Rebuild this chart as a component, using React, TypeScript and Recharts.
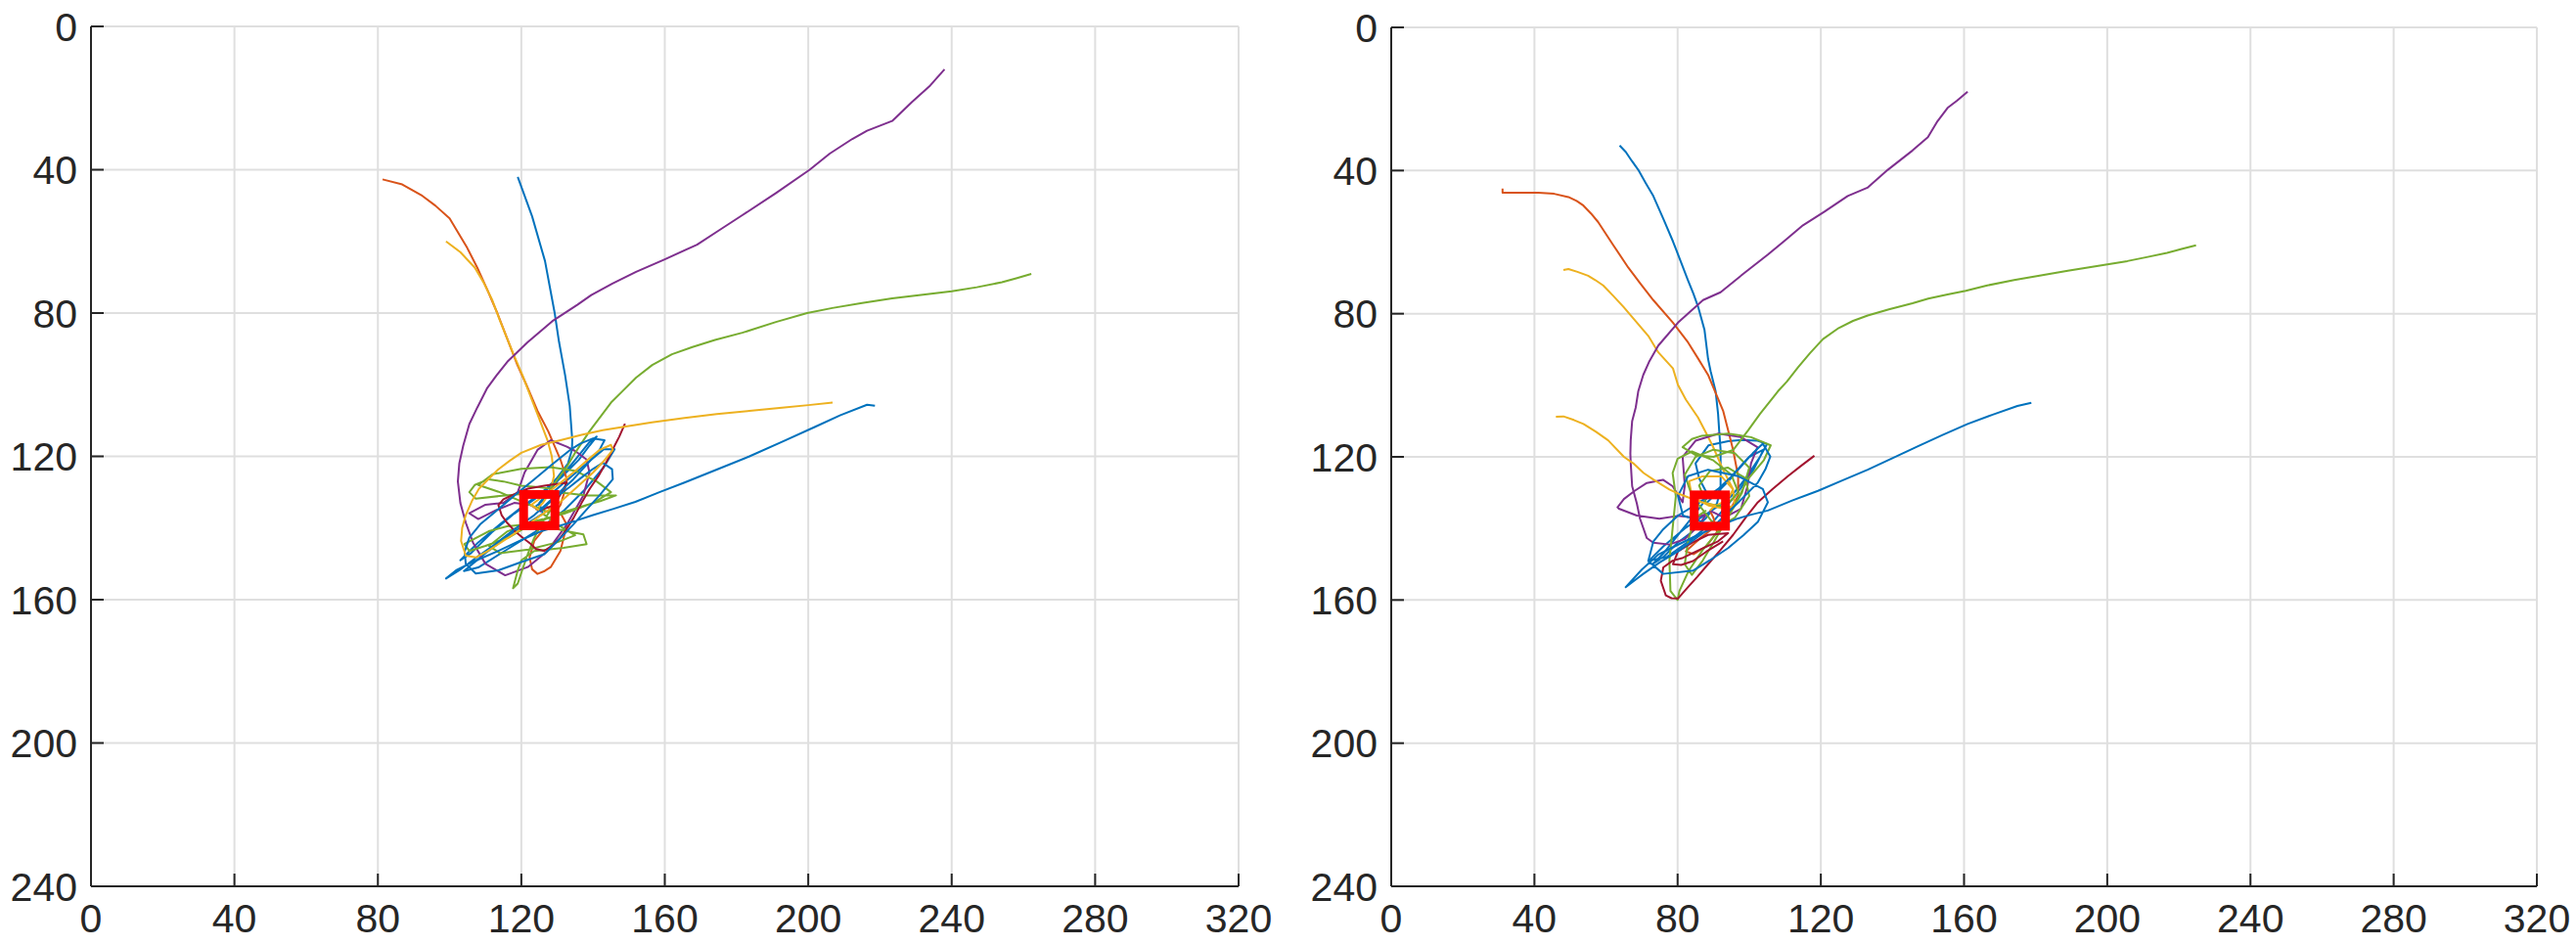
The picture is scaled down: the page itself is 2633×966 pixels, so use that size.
import React from "react";
import { ScatterChart, Scatter, XAxis, YAxis, CartesianGrid } from "recharts";

type Pt = [number, number];

const xTicks = [0, 40, 80, 120, 160, 200, 240, 280, 320];
const yTicks = [0, 40, 80, 120, 160, 200, 240];

// MATLAB default colour order
const BLUE = "#0072BD";
const ORANGE = "#D95319";
const YELLOW = "#EDB120";
const PURPLE = "#7E2F8E";
const GREEN = "#77AC30";
const DARK_RED = "#A2142F";

// ---- left run ----
const leftBlueA: Pt[] = [
  [119, 42], [123, 53], [126.6, 65.5], [129.3, 80], [130.5, 88], [132.2, 97.3], [133.5, 106], [134.2, 115.5],
  [134.1, 118.2], [133, 122], [130, 126], [127, 129], [123, 132], [119, 135], [114, 139], [108, 144], [103, 149],
  [106, 147], [112, 141], [118, 136], [125, 131], [131, 126], [136, 121], [139, 117], [141, 114.5], [139, 116],
  [135, 121], [130, 127], [125, 133], [126, 136], [118, 141], [110, 147], [104, 152], [108, 151], [116, 146],
  [124, 141], [132, 135], [138, 129], [143, 123], [146, 118], [143, 118], [137, 123], [130, 129], [124, 134],
];
const leftOrange: Pt[] = [
  [81.3, 42.7], [86.8, 44.1], [92.4, 47.3], [96, 50], [100, 53.6], [104.9, 61.8], [107.7, 67.3], [110.5, 73.5],
  [113.3, 80], [116, 87], [118.9, 94.5], [121.4, 100], [124.5, 107.3], [127.5, 113], [130.9, 120.9], [132.7, 126.4],
  [132, 130], [130.9, 133.6], [127.3, 139.1], [123.6, 143.6], [122.3, 148.2], [123, 151.5], [124.5, 152.8],
  [126.5, 152], [128.2, 150.9], [130.9, 146.4], [132.7, 139.1], [131, 136], [127, 134],
];
const leftYellowA: Pt[] = [
  [99, 60], [103, 63], [107, 67.3], [109.5, 71.5], [111.9, 76.4], [114, 82], [116.1, 87.3], [118, 92],
  [120.3, 97.3], [122.7, 103.6], [124.5, 108.2], [127.3, 115.5], [128.5, 120], [129.1, 125.5], [128, 130],
  [126, 133], [124, 135],
];
const leftPurple: Pt[] = [
  [238, 12], [234, 16.5], [229, 21], [223.4, 26.4], [216.4, 29.1], [212.3, 31.4], [206, 35.5], [200.4, 40],
  [191, 46.5], [181.6, 52.7], [175, 57], [169, 60.9], [160, 65], [152, 68.5], [145.4, 71.8], [139.5, 75],
  [135.6, 77.7], [128.6, 82.3], [121.7, 88.2], [116.1, 93.6], [113, 97.5], [110.5, 100.9], [107.7, 106.4],
  [105.5, 111], [103.8, 117], [102.7, 122], [102.3, 127], [103, 133], [104.5, 138.5], [106.5, 144], [110, 150],
  [115.5, 153.2], [121.8, 150.9], [127.3, 146.4], [132.7, 139], [137.3, 130.9], [139, 124.5], [138.2, 120.9],
  [135, 118.5], [132.7, 117.3], [128.2, 115.5], [124.5, 118.2], [120.9, 124.5], [119, 130], [115, 133],
  [110, 133.5], [105.5, 135.9], [108, 137.5], [113, 135], [118, 133], [122.7, 133.6], [125.5, 135.5],
];
const leftGreen: Pt[] = [
  [262.2, 69.1], [258, 70.3], [254, 71.4], [247, 72.8], [240, 73.9], [232, 74.9], [223.4, 75.9], [215, 77.2],
  [206.7, 78.6], [199.7, 80], [191, 82.5], [181.6, 85.5], [174, 87.5], [167.7, 89.5], [162, 91.5], [156.5, 94.5],
  [152, 98], [148.2, 101.8], [145, 105], [142.6, 108.2], [139, 113], [135, 119], [132.8, 122.7], [128.2, 129],
  [124, 128.5], [120, 128.2], [115, 127], [110.9, 126.4], [107, 128], [105.5, 130], [107.3, 131.8], [115.5, 130.9],
  [126.4, 130], [133, 130.3], [138.2, 130.9], [146.4, 130.9], [142, 132.5], [138.2, 133.6], [132, 135.5],
  [127.3, 137.3], [121, 140], [116.4, 142.7], [110, 145], [105.5, 146.4], [104.1, 144.5], [110.9, 140.9],
  [116, 139.5], [121.8, 139], [127, 139.6], [132.7, 140.9], [137.3, 141.8], [138.2, 144.5], [131.8, 145.5],
  [123.6, 146.4], [120, 149], [119, 151.8], [117.7, 156.8], [119, 155.5], [120.5, 151], [121.8, 147.3],
  [123.5, 143], [125.5, 139], [129.1, 133.6], [127.3, 135.5], [121, 133], [114, 130], [108, 128], [112, 125],
  [120, 123.5], [128, 123], [135, 124], [141, 127], [145, 130], [140, 133], [132, 136], [124, 138], [116, 141],
  [111, 145], [114, 147], [122, 146], [130, 144], [135, 142], [130, 139], [126, 136],
];
const leftDarkRed: Pt[] = [
  [148.9, 110.9], [147.3, 114.5], [145.5, 118], [143.6, 121.8], [141.5, 125.5], [139.1, 129], [136.8, 133],
  [134.5, 137.3], [132.5, 140.5], [130.9, 142.7], [128.5, 145], [126.4, 146.4], [124, 145.8], [122.7, 144.5],
  [120.5, 142.8], [118.2, 140.9], [116, 138.5], [114.5, 136.4], [113.6, 133.6], [115, 132], [117.3, 130.9],
  [121.8, 129], [126.4, 128.2], [132.7, 127.3], [131, 130.5], [129.1, 133.6], [125.5, 135],
];
const leftBlueB: Pt[] = [
  [218.6, 105.9], [216.4, 105.6], [209, 108.5], [201.8, 111.8], [193, 115.8], [183.6, 120], [174.5, 123.7],
  [165.5, 127.3], [158.5, 130], [151.8, 132.7], [145.5, 134.7], [140, 136.4], [134.5, 138.2], [130, 139.6],
  [125.5, 140.9], [119.5, 143.6], [113.6, 146.4], [107.5, 149], [101.8, 151.8], [99, 154.1], [102.7, 151.8],
  [107.5, 148.2], [112.7, 144.5], [118, 140.4], [123.6, 136.4], [129, 131.5], [134.5, 126.4], [138.5, 122],
  [141.8, 118.2], [143.2, 115.5], [140, 115], [136.5, 116.4], [133.6, 118.2], [128.5, 122.3], [123.6, 126.4],
  [118, 131], [112.7, 135.5], [108.5, 139], [105.5, 142.7], [104.2, 146.5], [104.5, 150], [107.3, 152.7],
  [113.6, 151.8], [120, 149.5], [126.4, 147.3], [130.5, 143.2], [134.5, 139], [138.5, 134.5], [141.8, 130.9],
  [145.5, 126.4], [145.3, 123.6], [142.7, 121.8], [140, 123.5], [137.3, 125.5], [133.4, 128.6], [129.1, 131.8],
  [125.5, 135],
];
const leftYellowB: Pt[] = [
  [206.8, 105], [200, 105.7], [192.7, 106.4], [183.6, 107.3], [174.5, 108.2], [165.5, 109.3], [156.4, 110.5],
  [149.5, 111.6], [142.7, 112.7], [136.8, 114], [130.9, 115.5], [125.5, 116.8], [120, 119], [116.8, 121.2],
  [113.6, 123.6], [110.9, 126.3], [108.2, 129], [106.2, 132.5], [104.5, 136.4], [103.5, 140], [103.2, 143.6],
  [104.5, 147.7], [107.3, 148.2], [110.5, 146.5], [113.6, 144.5], [117.7, 141.8], [121.8, 139], [126.4, 135.8],
  [130.9, 132.7], [135.5, 128.6], [140, 124.5], [143, 121.3], [145.5, 118.2], [145, 116.8], [141.8, 118.2],
  [138, 121.4], [134.5, 124.5], [130.5, 127.7], [126.4, 130.9], [122.7, 133.6], [125, 135],
];
const leftTarget: Pt[] = [[125, 135]];

// ---- right run ----
const rightBlueA: Pt[] = [
  [63.8, 33], [65.5, 34.8], [67.2, 37.3], [69, 39.8], [71.1, 43.5], [73.2, 47.1], [76, 53.5], [78.7, 59.8],
  [80.8, 65.2], [82.9, 70.7], [84.4, 74.4], [85.7, 78], [87.5, 84.5], [88.5, 92.6], [89.2, 96], [90.6, 101.6],
  [91.3, 108], [91.6, 112.6], [92, 118], [92, 124], [92, 129], [91, 133], [88, 137], [84, 141], [80, 144],
  [76, 148], [73, 150], [76, 147], [80, 142], [84, 137], [88.6, 131], [86, 126], [85, 121.8], [88.6, 116.8],
  [94.1, 115.6], [98, 115.3], [102.3, 115.5], [105, 116.4], [103, 120], [99, 126], [95, 131], [91, 134], [88, 136],
  [82, 140], [76, 145], [72, 149], [77, 148], [84, 143], [90, 138], [96, 131], [101, 124], [104, 118], [100, 120],
  [94, 127], [88, 133],
];
const rightOrange: Pt[] = [
  [31.1, 45], [31.1, 46.2], [36, 46.2], [41.1, 46.2], [45.5, 46.5], [49.5, 47.4], [51.8, 48.5], [53.7, 49.8],
  [55.8, 52], [57.8, 54.4], [62, 60.8], [66.2, 67.1], [69.7, 71.7], [73.2, 76.2], [78.7, 82.5], [82.9, 88],
  [85.7, 92.5], [88.5, 97.1], [92.7, 107.1], [94.8, 115.3], [95.5, 118.1], [96.9, 125.4], [96.9, 130.9],
  [94.5, 135], [91, 139], [86, 143], [82.3, 146.4], [84.5, 147.2], [88, 145], [91, 141], [90, 137], [89, 135],
];
const rightYellowA: Pt[] = [
  [48.1, 67.8], [49.5, 67.5], [52, 68.3], [55, 69.4], [57, 70.6], [59.2, 72.1], [62, 75], [64.8, 78],
  [68.3, 82.1], [71.8, 86.2], [74.6, 90.8], [78.7, 95.3], [80.1, 99.9], [82.3, 104], [85.7, 109], [88.5, 114.4],
  [89.9, 117.2], [92.7, 123.6], [95.5, 129.1], [95.9, 133.6], [93.2, 134.5], [88.6, 133.6], [84, 131],
  [83.2, 126.8], [86.8, 125.5], [92.3, 125.5], [95.5, 129.1], [94, 132], [90, 134],
];
const rightPurple: Pt[] = [
  [161, 18], [158, 20.5], [155.4, 22.5], [152.6, 26.2], [149.9, 30.7], [145.6, 34.4], [138.7, 39.8],
  [133, 44.8], [127.5, 47.1], [121, 51.5], [115, 55.3], [110, 59.5], [105.2, 63.5], [98.3, 68.9], [92, 74],
  [87.1, 76.2], [80.1, 82.5], [74.6, 88.9], [72, 93.5], [70.4, 97.1], [69, 101.7], [68.3, 106.2], [67.3, 110],
  [66.9, 115.3], [66.8, 119.1], [66.9, 121.7], [67.3, 128.2], [68.6, 133], [69.5, 137.3], [71.4, 142.7],
  [73.2, 144], [77.7, 144.5], [82, 143], [86, 139], [88, 136], [85, 137], [80, 136.5], [74.9, 137.3],
  [68.6, 136.4], [63.6, 134.5], [63.2, 134.1], [65, 131.8], [68, 129.5], [71.4, 127.3], [75.9, 126.4],
  [78.6, 128.2], [81.4, 132.7], [82, 128], [81.4, 120], [85, 115.5], [91.4, 113.5], [97.7, 114.5],
  [102.3, 117.3], [100.5, 121.8], [99.5, 128.2], [97.7, 134.5], [93, 137], [89, 135],
];
const rightGreen: Pt[] = [
  [224.8, 60.9], [220.5, 62], [216.7, 63], [211, 64.2], [205.6, 65.3], [195.8, 66.9], [189, 68], [181.9, 69.2],
  [174, 70.6], [166.5, 72.1], [160.5, 73.6], [155.4, 74.6], [150, 75.8], [145.6, 77.1], [139, 78.8],
  [133.1, 80.5], [129, 82], [125, 84], [120.6, 87.1], [117, 91], [113.6, 95], [110.5, 99], [108, 101.7],
  [106.6, 103.5], [103, 108], [99.7, 112.6], [95.5, 118.1], [90, 120], [85, 119.5], [81.4, 117.3], [84, 115],
  [86.8, 114.1], [94.1, 113.5], [100.5, 114.5], [106, 116.8], [104.1, 120.9], [99.5, 126.4], [95.9, 133.6],
  [92, 140], [87, 146], [83, 152], [80.5, 157.5], [80, 160], [78, 157.5], [77.7, 149], [78.6, 140], [79.5, 131],
  [78.6, 124.5], [80, 120.5], [84, 118.5], [90, 121], [95, 125], [97, 130], [93, 134], [88, 133], [86, 128],
  [89, 124], [94, 123], [99, 126], [100, 131], [96, 137], [91, 140], [88, 136], [84, 131], [82, 125], [85, 120],
  [90, 118], [96, 119], [100, 123], [98, 130], [94, 137], [90, 144], [87, 149], [84, 153], [82, 150], [83, 143],
  [85, 137], [88, 135],
];
const rightDarkRed: Pt[] = [
  [118.2, 119.7], [114.5, 122.5], [110.8, 125.4], [106.5, 129], [102.4, 132.7], [99, 137], [95.5, 141.8],
  [92, 146], [88.5, 150], [85.5, 153.5], [82.9, 156.4], [80.1, 159.6], [78.3, 159.5], [76.7, 158.7],
  [75.3, 154.6], [76, 150.9], [78.6, 149], [81.5, 148.2], [86.5, 145.8], [91.3, 143.6], [94.1, 141.3],
  [88.5, 141.8], [84, 144], [80.1, 146.4], [78.7, 150], [81, 150.2], [84.3, 149.1], [88, 146.5], [92.7, 143.6],
];
const rightBlueB: Pt[] = [
  [178.8, 104.9], [174.9, 105.8], [168, 108.2], [161, 110.8], [154, 113.9], [147, 117.1], [140, 120.4],
  [133.1, 123.6], [126, 126.6], [119.2, 129.5], [112, 132.2], [105.2, 135], [100, 136.3], [96.9, 137.2],
  [91, 139.5], [85.7, 141.8], [80, 144.6], [74.6, 147.3], [70, 151.5], [65.5, 156.4], [68, 154.5],
  [70.4, 152.7], [75, 149.5], [80.1, 146.4], [85.5, 142.5], [91.3, 138.2], [97, 132.7], [102.4, 127.2],
  [104.5, 123.5], [105.9, 119.9], [103.8, 116.3], [101, 119], [98.3, 121.8], [95, 125.5], [91.3, 129],
  [86, 132.8], [80.1, 136.4], [76, 140.2], [73.2, 143.7], [71.8, 149.1], [76, 152.7], [84.3, 151.8],
  [89, 148.9], [94.1, 145.5], [98.5, 141.8], [102.4, 138.2], [105.2, 132.7], [103.8, 129], [96.9, 125.4],
  [88.5, 123.6], [82.9, 125.4], [80.1, 130.9], [81.5, 136.4], [87.1, 138.2],
];
const rightYellowB: Pt[] = [
  [46, 108.8], [48.1, 108.7], [51, 109.7], [53.7, 110.8], [57.2, 113], [60.6, 115.4], [65, 120], [67.6, 121.8],
  [70.5, 124.5], [73.2, 126.3], [77.7, 129.1], [80.5, 130.4], [83.2, 131.4], [86.8, 132.7], [90.5, 133.6], [89, 135],
];
const rightTarget: Pt[] = [[89, 135]];

type Track = { key: string; color: string; pts: Pt[] };

const leftTracks: Track[] = [
  { key: "b1", color: BLUE, pts: leftBlueA },
  { key: "o1", color: ORANGE, pts: leftOrange },
  { key: "y1", color: YELLOW, pts: leftYellowA },
  { key: "p1", color: PURPLE, pts: leftPurple },
  { key: "g1", color: GREEN, pts: leftGreen },
  { key: "r1", color: DARK_RED, pts: leftDarkRed },
  { key: "b2", color: BLUE, pts: leftBlueB },
  { key: "y2", color: YELLOW, pts: leftYellowB },
];
const rightTracks: Track[] = [
  { key: "b1", color: BLUE, pts: rightBlueA },
  { key: "o1", color: ORANGE, pts: rightOrange },
  { key: "y1", color: YELLOW, pts: rightYellowA },
  { key: "p1", color: PURPLE, pts: rightPurple },
  { key: "g1", color: GREEN, pts: rightGreen },
  { key: "r1", color: DARK_RED, pts: rightDarkRed },
  { key: "b2", color: BLUE, pts: rightBlueB },
  { key: "y2", color: YELLOW, pts: rightYellowB },
];

const toRows = (pts: Pt[]) => pts.map(([x, y]) => ({ x, y }));

const AXIS = "#262626";
const tickFont = {
  fill: AXIS,
  fontSize: 41,
  fontFamily: '"Liberation Sans", Arial, Helvetica, sans-serif',
};

const NoDot = () => <g />;

// hollow red square marking the goal position
function TargetMark(props: any) {
  const { cx, cy } = props;
  return (
    <rect x={cx - 16} y={cy - 16} width={32} height={32} fill="none" stroke="#FF0000" strokeWidth={9} />
  );
}

interface PanelProps {
  width: number;
  margin: { top: number; right: number; bottom: number; left: number };
  tracks: Track[];
  target: Pt[];
}

function Panel({ width, margin, tracks, target }: PanelProps) {
  return (
    <ScatterChart width={width} height={966} margin={margin}>
      <CartesianGrid stroke="#dfdfdf" strokeWidth={2} />
      {tracks.map((t) => (
        <Scatter
          key={t.key}
          data={toRows(t.pts)}
          fill={t.color}
          line={{ stroke: t.color, strokeWidth: 2, strokeLinejoin: "round" }}
          lineType="joint"
          shape={NoDot}
          isAnimationActive={false}
        />
      ))}
      <Scatter data={toRows(target)} fill="#FF0000" shape={TargetMark} isAnimationActive={false} />
      <XAxis
        type="number"
        dataKey="x"
        domain={[0, 320]}
        ticks={xTicks}
        interval={0}
        height={60}
        tickSize={-13}
        tickMargin={31}
        stroke={AXIS}
        strokeWidth={2}
        tick={tickFont}
        allowDataOverflow
      />
      <XAxis
        xAxisId="top"
        orientation="top"
        type="number"
        dataKey="x"
        domain={[0, 320]}
        ticks={xTicks}
        interval={0}
        height={0}
        tickSize={-13}
        stroke={AXIS}
        strokeWidth={2}
        tick={false}
        allowDataOverflow
      />
      <YAxis
        type="number"
        dataKey="y"
        domain={[0, 240]}
        reversed
        ticks={yTicks}
        interval={0}
        width={80}
        tickSize={-13}
        tickMargin={27}
        stroke={AXIS}
        strokeWidth={2}
        tick={tickFont}
        allowDataOverflow
      />
      <YAxis
        yAxisId="right"
        orientation="right"
        type="number"
        dataKey="y"
        domain={[0, 240]}
        reversed
        ticks={yTicks}
        interval={0}
        width={0}
        tickSize={-13}
        stroke={AXIS}
        strokeWidth={2}
        tick={false}
        allowDataOverflow
      />
    </ScatterChart>
  );
}

export default function App() {
  return (
    <div style={{ position: "absolute", left: 0, top: 0, width: 2633, height: 966, background: "#fff" }}>
      <div style={{ position: "absolute", left: 0, top: 0 }}>
        <Panel width={1300} margin={{ top: 27, right: 34, bottom: 0, left: 13 }} tracks={leftTracks} target={leftTarget} />
      </div>
      <div style={{ position: "absolute", left: 1330, top: 0 }}>
        <Panel width={1303} margin={{ top: 28, right: 40, bottom: 0, left: 12 }} tracks={rightTracks} target={rightTarget} />
      </div>
    </div>
  );
}
